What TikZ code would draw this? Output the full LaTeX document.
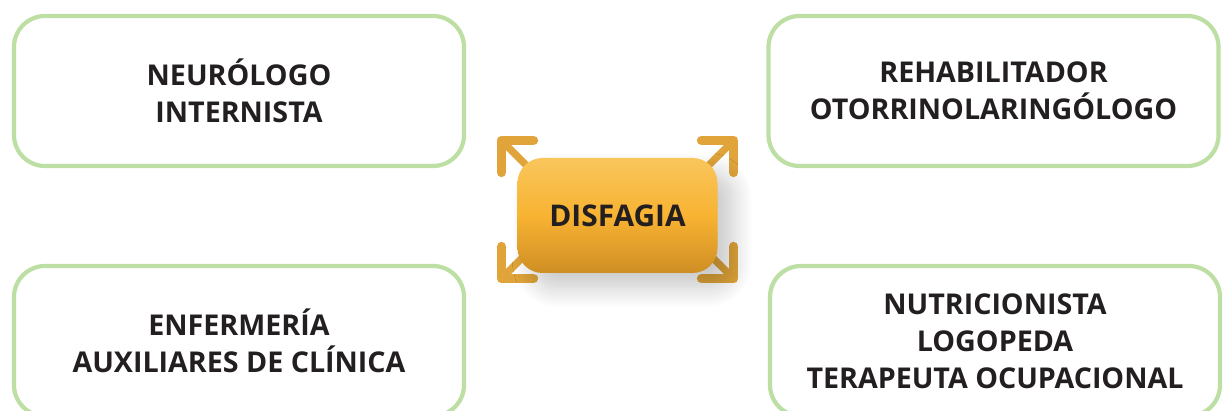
\documentclass[tikz,border=0pt]{standalone}
\usepackage{fontspec}
\setmainfont{Open Sans}
\usetikzlibrary{arrows.meta, positioning, shadows.blur, backgrounds}
\definecolor{leaf}{HTML}{BEDFA4}
\definecolor{ink}{HTML}{231F20}
\definecolor{goldtop}{HTML}{F9C65C}
\definecolor{goldmid}{HTML}{F8B332}
\definecolor{goldbot}{HTML}{CF8E25}
\definecolor{goldarrow}{HTML}{E0A43A}

\begin{document}
\begin{tikzpicture}[
    role/.style={rectangle, rounded corners=0.62cm, draw=leaf, line width=2.4pt, fill=white,
        minimum width=9.0cm, minimum height=3.0cm, align=center, text=ink,
        font=\fontsize{16.3}{21}\selectfont\bfseries},
    core/.style={rectangle, rounded corners=0.5cm, minimum width=4.0cm, minimum height=2.3cm,
        top color=goldtop, bottom color=goldbot, middle color=goldmid, text=ink,
        font=\fontsize{17}{21}\selectfont\bfseries,
        blur shadow={shadow xshift=0.3cm, shadow yshift=-0.3cm, shadow opacity=22, shadow blur steps=14, shadow blur radius=0.4cm}},
    burst/.style={-{Straight Barb[angle=90:0.64cm, line width=0pt 1.3, round]}, line width=4.2pt, draw=goldarrow, line cap=round}]

    \useasboundingbox (0,0) rectangle (24.46,8.2);
    \clip (0,0) rectangle (24.46,8.2);

    % Team boxes
    \node[role] (neuro) at (4.78,6.38) {NEURÓLOGO\\INTERNISTA};
    \node[role] (rehab) at (19.87,6.38) {REHABILITADOR\\OTORRINOLARINGÓLOGO};
    \node[role] (enfer) at (4.78,1.38) {ENFERMERÍA\\AUXILIARES DE CLÍNICA};
    \node[role] (nutri) at (19.90,1.38) {NUTRICIONISTA\\LOGOPEDA\\TERAPEUTA OCUPACIONAL};

    % Central problem
    \node[core] (disf) at (12.35,3.89) {DISFAGIA};

    % Arrow tips and where the shafts start (under the box)
    \coordinate (tipnw) at (9.96,5.46);
    \coordinate (tipne) at (14.74,5.46);
    \coordinate (tipsw) at (9.96,2.56);
    \coordinate (tipse) at (14.74,2.56);
    \coordinate (basenw) at ([shift={(1.2,-1.2)}]tipnw);
    \coordinate (basene) at ([shift={(-1.2,-1.2)}]tipne);
    \coordinate (basesw) at ([shift={(1.2,1.2)}]tipsw);
    \coordinate (basese) at ([shift={(-1.2,1.2)}]tipse);

    % Arrows out of the corners, drawn behind the box
    \begin{pgfonlayer}{background}
        \draw[burst] (basenw) -- (tipnw);
        \draw[burst] (basene) -- (tipne);
        \draw[burst] (basesw) -- (tipsw);
        \draw[burst] (basese) -- (tipse);
    \end{pgfonlayer}

\end{tikzpicture}
\end{document}
